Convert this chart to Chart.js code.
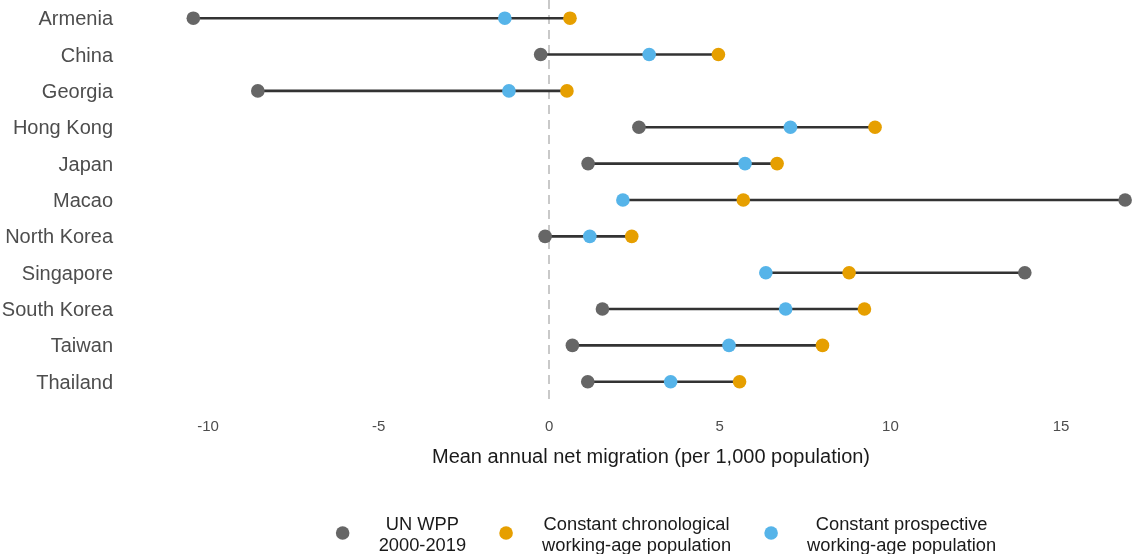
<!DOCTYPE html>
<html>
<head>
<meta charset="utf-8">
<script src="https://cdn.jsdelivr.net/npm/chart.js@4/dist/chart.umd.min.js"></script>
<style>
  html, body { margin: 0; padding: 0; background: #ffffff; }
  #wrap { position: relative; width: 1140px; height: 554px; }
</style>
</head>
<body>
<div id="wrap"><canvas id="chart" width="1140" height="554"></canvas></div>
<script>
// Mean annual net migration per 1,000 population, by country/territory
const countries = ["Armenia", "China", "Georgia", "Hong Kong", "Japan", "Macao",
  "North Korea", "Singapore", "South Korea", "Taiwan", "Thailand"];
const unWpp         = [-10.43, -0.25, -8.54, 2.63, 1.14, 16.88, -0.12, 13.94, 1.56, 0.68, 1.13];
const chronological = [  0.61,  4.96,  0.52, 9.55, 6.68,  5.69,  2.42,  8.79, 9.24, 8.01, 5.58];
const prospective   = [ -1.30,  2.93, -1.18, 7.07, 5.74,  2.16,  1.19,  6.35, 6.93, 5.27, 3.56];
const xTicks = [-10, -5, 0, 5, 10, 15];
const referenceValue = 0;
const seriesLabels = [
  ["UN WPP", "2000-2019"],
  ["Constant chronological", "working-age population"],
  ["Constant prospective", "working-age population"]
];
const seriesColors = ["#666666", "#E69F00", "#56B4E9"];

const FONT = "'Liberation Sans', Arial, Helvetica, sans-serif";

// Range segments: one line piece per country from its lowest to highest estimate
const segmentData = [];
countries.forEach((c, i) => {
  const vals = [unWpp[i], chronological[i], prospective[i]];
  segmentData.push({ x: Math.min(...vals), y: i });
  segmentData.push({ x: Math.max(...vals), y: i });
  segmentData.push({ x: null, y: null });
});

const toPoints = arr => arr.map((v, i) => ({ x: v, y: i }));

// Dashed reference line at zero, drawn under the data
const refLine = {
  id: 'refLine',
  beforeDatasetsDraw(chart) {
    const { ctx, chartArea, scales } = chart;
    const px = Math.round(scales.x.getPixelForValue(referenceValue));
    ctx.save();
    ctx.strokeStyle = '#c9c9c9';
    ctx.lineWidth = 2;
    ctx.setLineDash([9, 6]);
    ctx.beginPath();
    ctx.moveTo(px, chartArea.top);
    ctx.lineTo(px, chartArea.bottom);
    ctx.stroke();
    ctx.restore();
  }
};

// Two-line legend under the axis title
const bottomLegend = {
  id: 'bottomLegend',
  afterDraw(chart) {
    const { ctx } = chart;
    ctx.save();
    ctx.font = "18.3px " + FONT;
    const keyToText = 36, textToKey = 40, r = 6.8;
    const widths = seriesLabels.map(lines => Math.max(...lines.map(l => ctx.measureText(l).width)));
    let span = r;
    widths.forEach((w, i) => { span += keyToText + w + (i < widths.length - 1 ? textToKey : 0); });
    let x = 666 - span / 2 + r;
    const yKey = 533, y1 = 525, y2 = 546;
    seriesLabels.forEach((lines, i) => {
      ctx.fillStyle = seriesColors[i];
      ctx.beginPath();
      ctx.arc(x, yKey, r, 0, Math.PI * 2);
      ctx.fill();
      const cx = x + keyToText + widths[i] / 2;
      ctx.fillStyle = '#1a1a1a';
      ctx.textAlign = 'center';
      ctx.textBaseline = 'middle';
      ctx.fillText(lines[0], cx, y1);
      ctx.fillText(lines[1], cx, y2);
      x = x + keyToText + widths[i] + textToKey;
    });
    ctx.restore();
  }
};

const pointStyle = color => ({
  pointRadius: 6.8,
  pointHoverRadius: 6.8,
  pointBackgroundColor: color,
  pointBorderColor: color,
  pointBorderWidth: 0,
  showLine: false,
  backgroundColor: color,
  borderColor: color
});

new Chart(document.getElementById('chart'), {
  type: 'scatter',
  data: {
    datasets: [
      { label: 'UN WPP 2000-2019', data: toPoints(unWpp), order: 3, ...pointStyle(seriesColors[0]) },
      { label: 'Constant chronological working-age population', data: toPoints(chronological), order: 2, ...pointStyle(seriesColors[1]) },
      { label: 'Constant prospective working-age population', data: toPoints(prospective), order: 1, ...pointStyle(seriesColors[2]) },
      {
        type: 'line', label: 'range', data: segmentData, order: 10,
        borderColor: '#333333', borderWidth: 2.6, pointRadius: 0,
        spanGaps: false, fill: false, tension: 0
      }
    ]
  },
  options: {
    responsive: false,
    animation: false,
    events: [],
    layout: { autoPadding: false, padding: { left: 0, right: 0, top: 0, bottom: 80.4 } },
    plugins: {
      legend: { display: false },
      tooltip: { enabled: false }
    },
    scales: {
      x: {
        type: 'linear',
        min: -11.348,
        max: 17.316,
        afterBuildTicks: s => { s.ticks = xTicks.map(v => ({ value: v })); },
        afterFit: s => { s.height = 70; s.paddingLeft = 0; s.paddingRight = 0; },
        grid: { display: false, drawTicks: false },
        border: { display: false },
        ticks: {
          padding: 14,
          color: '#4d4d4d',
          font: { family: FONT, size: 15 },
          callback: v => String(v)
        },
        title: {
          display: true,
          text: 'Mean annual net migration (per 1,000 population)',
          color: '#1a1a1a',
          font: { family: FONT, size: 20 },
          padding: { top: 0, bottom: 4 }
        }
      },
      y: {
        type: 'linear',
        reverse: true,
        min: -0.5,
        max: 10.6,
        // category labels sit a hair below the row centre so the text's optical middle lines up with the dots
        afterBuildTicks: s => { s.ticks = countries.map((c, i) => ({ value: i + 0.04 })); },
        afterFit: s => { s.width = 162; s.paddingTop = 0; s.paddingBottom = 0; },
        grid: { display: false, drawTicks: false, tickLength: 0 },
        border: { display: false },
        ticks: {
          padding: 49,
          color: '#4d4d4d',
          font: { family: FONT, size: 20 },
          callback: (v, idx) => countries[idx]
        }
      }
    }
  },
  plugins: [refLine, bottomLegend]
});
</script>
</body>
</html>
